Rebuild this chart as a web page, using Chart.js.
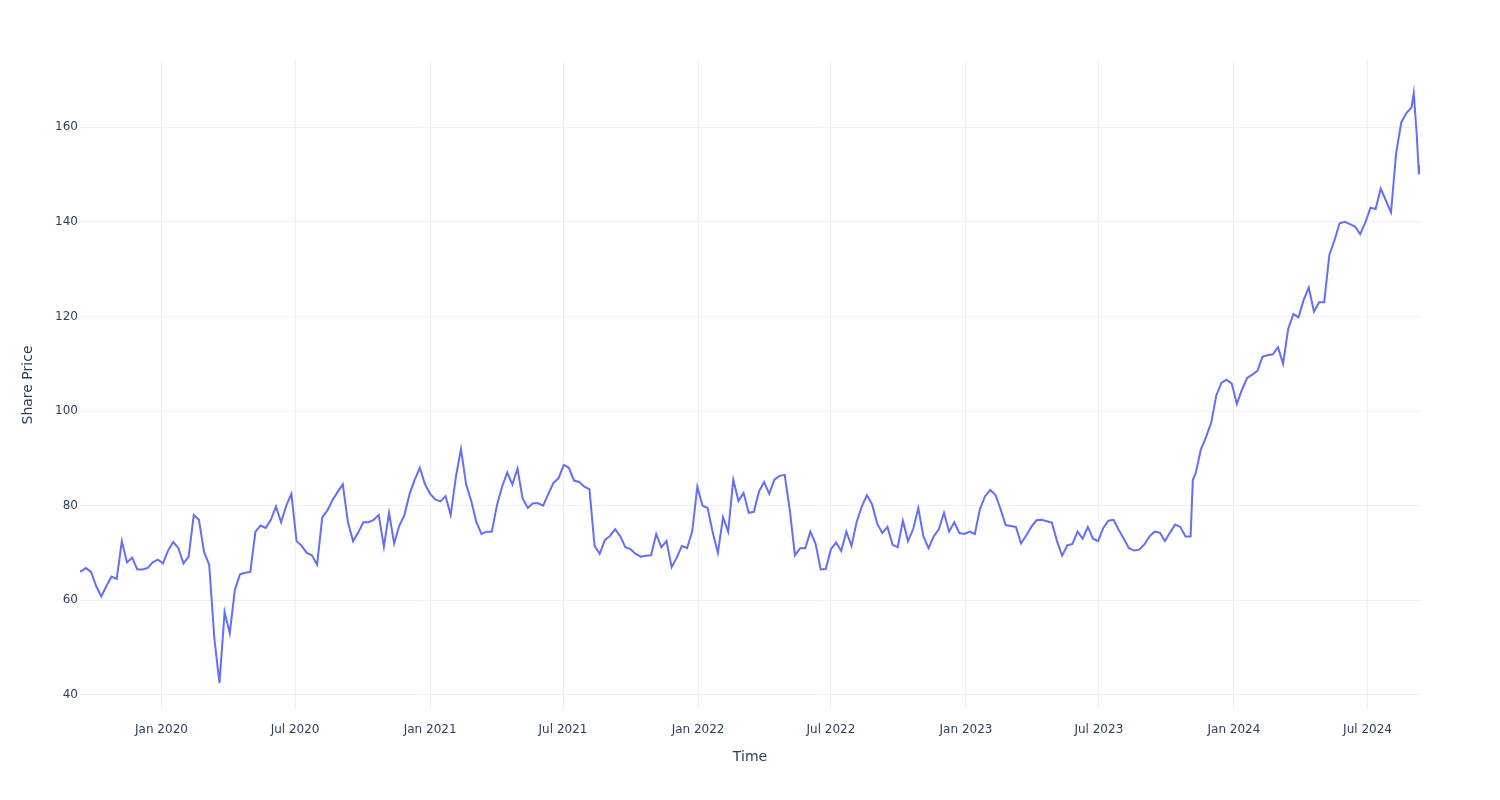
<!DOCTYPE html>
<html>
<head>
<meta charset="utf-8">
<script src="https://cdn.jsdelivr.net/npm/chart.js@4"></script>
<style>
  body { margin: 0; background: #fff; }
  canvas { display: block; }
</style>
</head>
<body>
<canvas id="priceChart" width="1500" height="800"></canvas>
<script>
'use strict';

// Weekly closes (plus a few spike days)
let dates = [
  '2019-09-12','2019-09-20','2019-09-27','2019-10-04','2019-10-11','2019-10-18','2019-10-25',
  '2019-11-01','2019-11-08','2019-11-15','2019-11-22','2019-11-29','2019-12-06','2019-12-13','2019-12-20','2019-12-27',
  '2020-01-03','2020-01-10','2020-01-17','2020-01-24','2020-01-31','2020-02-07','2020-02-14','2020-02-21','2020-02-28',
  '2020-03-06','2020-03-13','2020-03-20','2020-03-27','2020-04-03','2020-04-10','2020-04-17','2020-04-24',
  '2020-05-01','2020-05-08','2020-05-15','2020-05-22','2020-05-29','2020-06-05','2020-06-12','2020-06-19','2020-06-26',
  '2020-07-03','2020-07-10','2020-07-17','2020-07-24','2020-07-31','2020-08-07','2020-08-14','2020-08-21','2020-08-28',
  '2020-09-04','2020-09-11','2020-09-18','2020-09-25','2020-10-02','2020-10-09','2020-10-16','2020-10-23','2020-10-30',
  '2020-11-06','2020-11-13','2020-11-20','2020-11-27','2020-12-04','2020-12-11','2020-12-18','2020-12-25',
  '2021-01-01','2021-01-08','2021-01-15','2021-01-22','2021-01-29','2021-02-05','2021-02-12','2021-02-19','2021-02-26',
  '2021-03-05','2021-03-12','2021-03-19','2021-03-26','2021-04-02','2021-04-09','2021-04-16','2021-04-23','2021-04-30',
  '2021-05-07','2021-05-14','2021-05-21','2021-05-28','2021-06-04','2021-06-11','2021-06-18','2021-06-25',
  '2021-07-02','2021-07-09','2021-07-16','2021-07-23','2021-07-30','2021-08-06','2021-08-13','2021-08-20','2021-08-27',
  '2021-09-03','2021-09-10','2021-09-17','2021-09-24','2021-10-01','2021-10-08','2021-10-15','2021-10-22','2021-10-29',
  '2021-11-05','2021-11-12','2021-11-19','2021-11-26','2021-12-03','2021-12-10','2021-12-17','2021-12-24','2021-12-31',
  '2022-01-07','2022-01-14','2022-01-21','2022-01-28','2022-02-04','2022-02-11','2022-02-18','2022-02-25',
  '2022-03-04','2022-03-11','2022-03-18','2022-03-25','2022-04-01','2022-04-08','2022-04-15','2022-04-22','2022-04-29',
  '2022-05-06','2022-05-13','2022-05-20','2022-05-27','2022-06-03','2022-06-10','2022-06-17','2022-06-24',
  '2022-07-01','2022-07-08','2022-07-15','2022-07-22','2022-07-29','2022-08-05','2022-08-12','2022-08-19','2022-08-26',
  '2022-09-02','2022-09-09','2022-09-16','2022-09-23','2022-09-30','2022-10-07','2022-10-14','2022-10-21','2022-10-28',
  '2022-11-04','2022-11-11','2022-11-18','2022-11-25','2022-12-02','2022-12-09','2022-12-16','2022-12-23','2022-12-30',
  '2023-01-06','2023-01-13','2023-01-20','2023-01-27','2023-02-03','2023-02-10','2023-02-17','2023-02-24',
  '2023-03-03','2023-03-10','2023-03-17','2023-03-24','2023-03-31','2023-04-07','2023-04-14','2023-04-21','2023-04-28',
  '2023-05-05','2023-05-12','2023-05-19','2023-05-26','2023-06-02','2023-06-09','2023-06-16','2023-06-23','2023-06-30',
  '2023-07-07','2023-07-14','2023-07-21','2023-07-28','2023-08-04','2023-08-11','2023-08-18','2023-08-25',
  '2023-09-01','2023-09-08','2023-09-15','2023-09-22','2023-09-29','2023-10-06','2023-10-13','2023-10-20','2023-10-27',
  '2023-11-03','2023-11-06','2023-11-10','2023-11-17','2023-11-24','2023-12-01','2023-12-08','2023-12-15','2023-12-22','2023-12-29',
  '2024-01-05','2024-01-12','2024-01-19','2024-01-26','2024-02-02','2024-02-09','2024-02-16','2024-02-23',
  '2024-03-01','2024-03-08','2024-03-15','2024-03-22','2024-03-29','2024-04-05','2024-04-12','2024-04-19','2024-04-26',
  '2024-05-03','2024-05-10','2024-05-17','2024-05-24','2024-05-31','2024-06-07','2024-06-14','2024-06-21','2024-06-28',
  '2024-07-05','2024-07-12','2024-07-19','2024-07-26','2024-08-02','2024-08-09','2024-08-16','2024-08-23','2024-08-30',
  '2024-09-02','2024-09-06','2024-09-09','2024-09-10'
];

let prices = [
  66.0, 66.8, 66.0, 63.0, 60.8, 63.0, 65.0,
  64.5, 72.5, 68.0, 69.0, 66.5, 66.5, 66.8, 68.0, 68.6,
  // 2020
  67.8, 70.5, 72.3, 71.0, 67.8, 69.2, 78.0, 77.0, 70.2,
  67.5, 52.0, 42.5, 57.5, 53.0, 62.2, 65.5, 65.8,
  66.0, 74.5, 75.8, 75.3, 77.0, 79.8, 76.5, 80.0, 82.5,
  72.5, 71.5, 70.0, 69.5, 67.5, 77.5, 79.0, 81.2, 82.9,
  84.5, 76.5, 72.5, 74.3, 76.5, 76.5, 77.0, 78.0, 71.3,
  78.5, 72.0, 75.8, 78.0, 82.5, 85.5, 88.0, 84.5,
  // 2021
  82.5, 81.3, 80.9, 82.0, 78.0, 86.0, 92.0, 84.5, 81.0,
  76.5, 74.0, 74.5, 74.5, 80.1, 84.0, 87.0, 84.5, 87.8,
  81.5, 79.5, 80.5, 80.5, 80.0, 82.5, 84.8, 85.8,
  88.6, 88.0, 85.3, 85.0, 84.0, 83.5, 71.5, 69.8, 72.7,
  73.6, 75.0, 73.5, 71.2, 70.8, 69.8, 69.2, 69.4, 69.5,
  74.0, 71.2, 72.5, 67.0, 69.0, 71.5, 71.0, 74.5, 84.0,
  // 2022
  80.0, 79.5, 74.3, 70.0, 77.5, 74.5, 85.5, 81.0,
  82.7, 78.5, 78.7, 83.0, 85.0, 82.5, 85.5, 86.3, 86.5,
  79.0, 69.5, 71.0, 71.0, 74.5, 72.0, 66.5, 66.6,
  70.8, 72.2, 70.4, 74.5, 71.5, 76.5, 79.8, 82.2, 80.3,
  76.2, 74.2, 75.5, 71.7, 71.2, 76.8, 72.5, 75.0, 79.5,
  73.5, 71.0, 73.5, 75.0, 78.5, 74.5, 76.5, 74.2, 74.0,
  // 2023
  74.5, 74.0, 79.3, 82.0, 83.3, 82.3, 79.3, 75.9,
  75.7, 75.5, 72.0, 73.7, 75.5, 76.9, 77.0, 76.7, 76.4,
  72.5, 69.4, 71.6, 71.9, 74.5, 73.0, 75.5, 73.0, 72.5,
  75.3, 76.8, 77.0, 74.9, 73.0, 71.0, 70.5, 70.7,
  71.8, 73.5, 74.5, 74.3, 72.5, 74.3, 76.0, 75.5, 73.5,
  73.5, 85.4, 86.9, 91.9, 94.5, 97.5, 103.3, 106.0, 106.6, 105.8,
  // 2024
  101.5, 104.5, 107.0, 107.7, 108.5, 111.5, 111.8, 112.0,
  113.5, 110.0, 117.4, 120.5, 119.8, 123.5, 126.1, 121.0, 123.0,
  123.0, 133.0, 136.1, 139.7, 140.0, 139.5, 139.0, 137.4, 139.8,
  143.0, 142.7, 147.0, 144.5, 142.0, 154.5, 161.0, 163.0, 164.2,
  167.2, 158.5, 150.0, 152.0
];

let xTickDates = ['2020-01-01','2020-07-01','2021-01-01','2021-07-01','2022-01-01',
  '2022-07-01','2023-01-01','2023-07-01','2024-01-01','2024-07-01'];
let xTickLabels = ['Jan 2020','Jul 2020','Jan 2021','Jul 2021','Jan 2022',
  'Jul 2022','Jan 2023','Jul 2023','Jan 2024','Jul 2024'];
let yTicks = [40, 60, 80, 100, 120, 140, 160];

let points = [];
for (let i = 0; i < dates.length; i++) {
  points.push({ x: Date.parse(dates[i]), y: prices[i] });
}

const textColor = '#2a3f5f';
const gridColor = '#ebf0f8';
const fontFamily = '"DejaVu Sans", Verdana, sans-serif';

const ctx = document.getElementById('priceChart').getContext('2d');

const priceChart = new Chart(ctx, {
  type: 'line',
  data: {
    datasets: [{
      data: points,
      borderColor: '#636efa',
      borderWidth: 2,
      pointRadius: 0,
      tension: 0,
      fill: false
    }]
  },
  options: {
    responsive: false,
    devicePixelRatio: 1,
    animation: false,
    events: [],
    layout: { padding: { top: 60, right: 80, left: 0, bottom: 0 } },
    plugins: { legend: { display: false }, tooltip: { enabled: false } },
    scales: {
      x: {
        type: 'linear',
        min: Date.parse(dates[0]),
        max: Date.parse(dates[dates.length - 1]) + 12 * 3600 * 1000,
        afterBuildTicks: (scale) => {
          scale.ticks = xTickDates.map(d => ({ value: Date.parse(d) }));
        },
        afterFit: (scale) => { scale.height = 90; },
        grid: { color: gridColor, lineWidth: 1, drawTicks: false },
        border: { display: false },
        ticks: {
          autoSkip: false,
          maxRotation: 0,
          padding: 13,
          color: textColor,
          font: { family: fontFamily, size: 12 },
          callback: (value, index) => xTickLabels[index]
        },
        title: {
          display: true,
          text: 'Time',
          color: textColor,
          font: { family: fontFamily, size: 14 },
          padding: { top: 0, bottom: 34 }
        }
      },
      y: {
        min: 36.8,
        max: 174.2,
        afterBuildTicks: (scale) => {
          scale.ticks = yTicks.map(v => ({ value: v }));
        },
        afterFit: (scale) => { scale.width = 80; },
        grid: { color: gridColor, lineWidth: 1, drawTicks: false },
        border: { display: false },
        ticks: {
          padding: 2,
          color: textColor,
          font: { family: fontFamily, size: 12 },
          callback: (value) => String(value)
        },
        title: {
          display: true,
          text: 'Share Price',
          color: textColor,
          font: { family: fontFamily, size: 14 },
          padding: { top: 20, bottom: 0 }
        }
      }
    }
  }
});
</script>
</body>
</html>
